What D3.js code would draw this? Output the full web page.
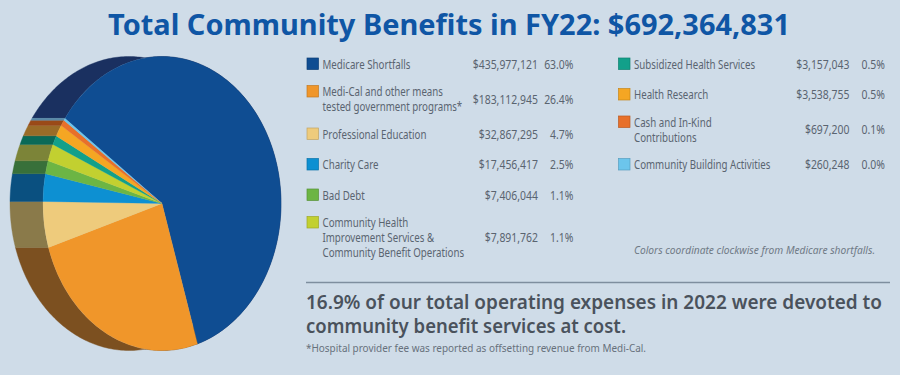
<!DOCTYPE html>
<html>
<head>
<meta charset="utf-8">
<script src="https://cdn.jsdelivr.net/npm/d3@7"></script>
<style>
  html, body { margin: 0; padding: 0; background: #cfdce8; }
  svg { display: block; }
</style>
</head>
<body>
<div id="chart"></div>
<script>
const categories = [
  "Medicare Shortfalls",
  "Medi-Cal and other means|tested government programs*",
  "Professional Education",
  "Charity Care",
  "Bad Debt",
  "Community Health|Improvement Services &|Community Benefit Operations",
  "Subsidized Health Services",
  "Health Research",
  "Cash and In-Kind|Contributions",
  "Community Building Activities"
];
const amounts = ["$435,977,121", "$183,112,945", "$32,867,295", "$17,456,417", "$7,406,044",
  "$7,891,762", "$3,157,043", "$3,538,755", "$697,200", "$260,248"];
const percents = ["63.0%", "26.4%", "4.7%", "2.5%", "1.1%", "1.1%", "0.5%", "0.5%", "0.1%", "0.0%"];
// slice sizes as drawn in the picture (degrees), the artwork does not follow the table exactly
const drawnSlices = [217.2, 89.9, 18.2, 10.9, 5.2, 6.8, 3.7, 4.7, 2.4, 0.9];
const faceColors = ["#0f4d92", "#f0962a", "#eecb7c", "#0d90d2", "#6cb544", "#c2d030", "#12a08a", "#f5a623", "#e8702a", "#6cc5ec"];
const sideColors = ["#1a3060", "#7c5020", "#8a7a4a", "#0a5080", "#38703a", "#7c8438", "#0a6a58", "#9a6c28", "#9a4a18", "#5a8aa8"];

const title = "Total Community Benefits in FY22: $692,364,831";
const note = "Colors coordinate clockwise from Medicare shortfalls.";
const callout = ["16.9% of our total operating expenses in 2022 were devoted to", "community benefit services at cost."];
const footnote = "*Hospital provider fee was reported as offsetting revenue from Medi-Cal.";

const width = 900, height = 375;
const textColor = "#5a6470";

const svg = d3.select("#chart").append("svg")
  .attr("width", width)
  .attr("height", height);

svg.append("rect").attr("width", width).attr("height", height).attr("fill", "#cfdce8");

// squeeze a text horizontally, the fonts here are wider than the original one
function squeeze(sel, factor) {
  sel.each(function () {
    const t = d3.select(this);
    t.attr("transform", `translate(${t.attr("x")},${t.attr("y")}) scale(${factor},1)`)
      .attr("x", 0).attr("y", 0);
  });
}

svg.append("text")
  .attr("x", 108).attr("y", 35)
  .attr("font-family", "'Noto Sans'")
  .attr("font-size", 28)
  .attr("font-weight", 700)
  .attr("fill", "#0f56a5")
  .attr("textLength", 682)
  .attr("lengthAdjust", "spacingAndGlyphs")
  .text(title);

// pie: flat ellipse with a band shifted to the left
const cx = 162, cy = 203.5, rx = 119, ry = 147, depth = 33;
const rad = Math.PI / 180;

const pie = d3.pie().sort(null)
  .startAngle(-54.6 * rad)
  .endAngle(305.4 * rad)
  .value(d => d);
const slices = pie(drawnSlices);

const arc = d3.arc().innerRadius(0).outerRadius(1);
const band = d3.line();

function bandPoints(d) {
  const n = Math.max(2, Math.ceil((d.endAngle - d.startAngle) / rad));
  const angles = d3.range(n + 1).map(i => d.startAngle + (d.endAngle - d.startAngle) * i / n);
  const front = angles.map(a => [cx + rx * Math.sin(a), cy - ry * Math.cos(a)]);
  const back = angles.slice().reverse().map(a => [cx - depth + rx * Math.sin(a), cy - ry * Math.cos(a)]);
  return front.concat(back);
}

svg.append("g").selectAll("path")
  .data(slices)
  .join("path")
  .attr("d", d => band(bandPoints(d)) + "Z")
  .attr("fill", (d, i) => sideColors[i])
  .attr("stroke", (d, i) => sideColors[i])
  .attr("stroke-width", 0.4);

svg.append("g")
  .attr("transform", `translate(${cx},${cy}) scale(${rx},${ry})`)
  .selectAll("path")
  .data(slices)
  .join("path")
  .attr("d", arc)
  .attr("fill", (d, i) => faceColors[i])
  .attr("stroke", (d, i) => faceColors[i])
  .attr("stroke-width", 0.3)
  .attr("vector-effect", "non-scaling-stroke");

// legend table, two columns
function drawColumn(start, end, left) {
  let y = 64;
  d3.range(start, end).forEach(i => {
    const lines = categories[i].split("|");
    const multi = lines.length > 1;
    const top = multi ? y - 3 : y;
    const g = svg.append("g").attr("class", "legend-row");

    g.append("rect")
      .attr("x", left).attr("y", top - 6)
      .attr("width", 11.5).attr("height", 11.5)
      .attr("fill", faceColors[i])
      .attr("stroke", d3.color(faceColors[i]).darker(0.6))
      .attr("stroke-width", 0.7);

    g.selectAll("text.label")
      .data(lines)
      .join("text")
      .attr("class", "label")
      .attr("x", left + 15.5)
      .attr("y", (d, k) => top + k * 15 + 4.5)
      .text(d => d);

    const mid = top + (lines.length - 1) * 7.5 + 4.5;
    g.append("text").attr("class", "number")
      .attr("x", left + 231).attr("y", mid).attr("text-anchor", "end").text(amounts[i]);
    g.append("text").attr("class", "number")
      .attr("x", left + 266.5).attr("y", mid).attr("text-anchor", "end").text(percents[i]);

    y = multi ? y + (lines.length - 1) * 15 + 24.5 : y + 30.5;
  });
}
drawColumn(0, 6, 307);
drawColumn(6, 10, 618.5);

svg.selectAll("text.label, text.number")
  .attr("font-family", "'Noto Sans'")
  .attr("font-size", 12)
  .attr("fill", textColor);
svg.selectAll("text.label").call(squeeze, 0.81);
svg.selectAll("text.number").call(squeeze, 0.87);

svg.append("text")
  .attr("x", 634).attr("y", 254)
  .attr("font-family", "'Noto Sans'")
  .attr("font-size", 11)
  .attr("font-style", "italic")
  .attr("fill", "#6f7a86")
  .attr("textLength", 241)
  .attr("lengthAdjust", "spacingAndGlyphs")
  .text(note);

svg.append("line")
  .attr("x1", 306).attr("x2", 890)
  .attr("y1", 282.5).attr("y2", 282.5)
  .attr("stroke", "#7e8e9e")
  .attr("stroke-width", 1.3);

svg.selectAll("text.callout")
  .data(callout)
  .join("text")
  .attr("class", "callout")
  .attr("x", 306)
  .attr("y", (d, i) => 309 + i * 24)
  .attr("font-family", "'Noto Sans'")
  .attr("font-size", 19)
  .attr("font-weight", 600)
  .attr("fill", "#4a525c")
  .attr("textLength", (d, i) => i === 0 ? 576 : 320)
  .attr("lengthAdjust", "spacingAndGlyphs")
  .text(d => d);

svg.append("text")
  .attr("x", 306).attr("y", 352)
  .attr("font-family", "'Noto Sans'")
  .attr("font-size", 10.5)
  .attr("fill", "#67717c")
  .attr("textLength", 340)
  .attr("lengthAdjust", "spacingAndGlyphs")
  .text(footnote);
</script>
</body>
</html>
